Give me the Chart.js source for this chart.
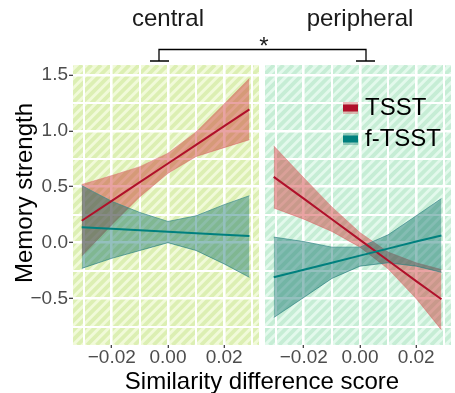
<!DOCTYPE html>
<html>
<head>
<meta charset="utf-8">
<script src="https://cdn.jsdelivr.net/npm/chart.js@4.4.0/dist/chart.umd.min.js"></script>
<style>
  body { margin: 0; background: #fff; font-family: "Liberation Sans", Arial, sans-serif; }
  #wrap { position: relative; width: 455px; height: 393px; overflow: hidden; }
  canvas { position: absolute; top: 0; }
  .lbl { position: absolute; font-size: 24px; line-height: 24px; color: #1a1a1a; text-align: center; white-space: nowrap; }
</style>
</head>
<body>
<div id="wrap">
  <canvas id="leftCanvas" width="262" height="393" style="left:0"></canvas>
  <canvas id="rightCanvas" width="193" height="393" style="left:262px"></canvas>
  <div class="lbl" style="left:68px;top:6px;width:200px">central</div>
  <div class="lbl" style="left:260px;top:6px;width:200px">peripheral</div>
  <div class="lbl" style="left:244px;top:34px;width:40px">*</div>
  <svg width="455" height="70" style="position:absolute;left:0;top:0">
    <path d="M159 61 V49.5 H366 V61 M150 61 H169 M356 61 H375" fill="none" stroke="#000" stroke-width="1.3"/>
  </svg>
  <div class="lbl" style="left:-126px;top:180.5px;width:300px;color:#000;transform:rotate(-90deg)">Memory strength</div>
  <div class="lbl" style="left:112px;top:368.5px;width:300px;color:#000">Similarity difference score</div>
</div>
<script>
// facets and groups
const panels = ['central', 'peripheral'];
const groups = ['TSST', 'f-TSST'];

const xPoints = [-0.0307, -0.02, -0.01, 0, 0.01, 0.02, 0.029];

// central panel
const centralTsstFit  = [0.196, 0.374, 0.541, 0.708, 0.875, 1.042, 1.192];
const centralTsstHigh = [0.52, 0.60, 0.68, 0.80, 0.99, 1.24, 1.47];
const centralTsstLow  = [-0.12, 0.16, 0.41, 0.62, 0.77, 0.85, 0.92];
const centralFtsstFit  = [0.139, 0.125, 0.112, 0.098, 0.085, 0.072, 0.060];
const centralFtsstHigh = [0.51, 0.37, 0.27, 0.19, 0.24, 0.34, 0.42];
const centralFtsstLow  = [-0.23, -0.14, -0.07, 0.00, -0.07, -0.19, -0.31];

// peripheral panel
const periphTsstFit  = [0.589, 0.394, 0.210, 0.025, -0.159, -0.344, -0.506];
const periphTsstHigh = [0.866, 0.58, 0.32, 0.09, -0.084, -0.18, -0.24];
const periphTsstLow  = [0.31, 0.21, 0.10, -0.04, -0.234, -0.50, -0.78];
const periphFtsstFit  = [-0.309, -0.242, -0.179, -0.116, -0.053, 0.010, 0.065];
const periphFtsstHigh = [0.05, 0.01, -0.04, -0.04, 0.07, 0.24, 0.395];
const periphFtsstLow  = [-0.67, -0.49, -0.32, -0.21, -0.18, -0.21, -0.265];

// axis ticks (every other one is a minor grid line)
const xTicks = [-0.03, -0.02, -0.01, 0, 0.01, 0.02, 0.03];
const xLabels = [-0.02, 0, 0.02];
const yTicks = [-0.75, -0.5, -0.25, 0, 0.25, 0.5, 0.75, 1, 1.25, 1.5];
const yLabels = [-0.5, 0, 0.5, 1, 1.5];

Chart.defaults.font.family = '"Liberation Sans", Arial, sans-serif';

const red = '#b0102a';
const teal = '#00807e';
const redBand = 'rgba(205, 45, 45, 0.44)';
const tealBand = 'rgba(0, 105, 100, 0.42)';

function isLabel(list, v) {
    return list.some(t => Math.abs(t - v) < 1e-9);
}

function fmt(v, digits) {
    return v.toFixed(digits).replace('-', '\u2212');
}

function pts(ys) {
    return xPoints.map((x, i) => ({x: x, y: ys[i]}));
}

function makeDatasets(tsstFit, tsstHigh, tsstLow, ftsstFit, ftsstHigh, ftsstLow) {
    return [
        {data: pts(tsstHigh), fill: '+1', backgroundColor: redBand, borderColor: 'rgba(220,120,120,0.5)', borderWidth: 1, pointRadius: 0, order: 3},
        {data: pts(tsstLow), fill: false, borderColor: 'rgba(220,120,120,0.5)', borderWidth: 1, pointRadius: 0, order: 3},
        {data: pts(ftsstHigh), fill: '+1', backgroundColor: tealBand, borderColor: 'rgba(60,140,140,0.7)', borderWidth: 1, pointRadius: 0, order: 2},
        {data: pts(ftsstLow), fill: false, borderColor: 'rgba(60,140,140,0.7)', borderWidth: 1, pointRadius: 0, order: 2},
        {label: groups[0], data: pts(tsstFit), fill: false, borderColor: red, borderWidth: 2, pointRadius: 0, order: 1},
        {label: groups[1], data: pts(ftsstFit), fill: false, borderColor: teal, borderWidth: 2, pointRadius: 0, order: 0}
    ];
}

// striped panel background
const hatchPlugin = {
    id: 'hatch',
    beforeDraw(chart, args, opts) {
        const a = chart.chartArea;
        const ctx = chart.ctx;
        ctx.save();
        ctx.beginPath();
        ctx.rect(a.left, a.top, a.right - a.left, a.bottom - a.top);
        ctx.clip();
        ctx.fillStyle = opts.base;
        ctx.fillRect(a.left, a.top, a.right - a.left, a.bottom - a.top);
        ctx.strokeStyle = opts.stripe;
        ctx.lineWidth = 3.8;
        const h = a.bottom - a.top;
        for (let k = a.left - h - 10; k < a.right + 10; k += 9.5) {
            ctx.beginPath();
            ctx.moveTo(k, a.bottom);
            ctx.lineTo(k + h, a.top);
            ctx.stroke();
        }
        ctx.restore();
    }
};

// legend drawn inside the right panel
const keyPlugin = {
    id: 'key',
    afterDraw(chart, args, opts) {
        if (!opts.show) return;
        const ctx = chart.ctx;
        const items = [[groups[0], red, 'rgba(215,120,120,0.5)', 108], [groups[1], teal, 'rgba(60,150,140,0.45)', 139]];
        ctx.save();
        items.forEach(([name, dark, light, cy]) => {
            ctx.fillStyle = light;
            ctx.fillRect(81, cy - 6, 15, 12);
            ctx.fillStyle = dark;
            ctx.fillRect(81, cy - 3.5, 15, 7);
            ctx.fillStyle = '#000';
            ctx.font = '24px "Liberation Sans", Arial, sans-serif';
            ctx.textBaseline = 'middle';
            ctx.fillText(name, 103, cy);
        });
        ctx.restore();
    }
};

function gridWidth(list) {
    return ctx => (ctx.tick && isLabel(list, ctx.tick.value)) ? 2.6 : 2;
}
function tickColor(list) {
    return ctx => (ctx.tick && isLabel(list, ctx.tick.value)) ? '#333333' : 'rgba(0,0,0,0)';
}

function makeChart(id, datasets, showY, colours, showKey) {
    return new Chart(document.getElementById(id), {
        type: 'line',
        data: {datasets: datasets},
        plugins: [hatchPlugin, keyPlugin],
        options: {
            responsive: false,
            animation: false,
            events: [],
            layout: {padding: {top: 65, right: showY ? 3 : 4, left: showY ? 0 : 3, bottom: 0}},
            plugins: {
                legend: {display: false},
                tooltip: {enabled: false},
                hatch: colours,
                key: {show: showKey}
            },
            scales: {
                x: {
                    type: 'linear',
                    min: -0.0338,
                    max: 0.0324,
                    afterBuildTicks: axis => { axis.ticks = xTicks.map(v => ({value: v})); },
                    afterFit: axis => { axis.height = 48; },
                    border: {display: false},
                    grid: {color: '#ffffff', lineWidth: gridWidth(xLabels), tickColor: tickColor(xLabels), tickLength: 3, tickWidth: 1.2},
                    ticks: {
                        autoSkip: false,
                        maxRotation: 0,
                        padding: -2,
                        color: '#4d4d4d',
                        font: {size: 19},
                        callback: v => isLabel(xLabels, v) ? fmt(v, 2) : ''
                    }
                },
                y: {
                    type: 'linear',
                    min: -0.915,
                    max: 1.589,
                    afterBuildTicks: axis => { axis.ticks = yTicks.map(v => ({value: v})); },
                    afterFit: axis => { axis.width = showY ? 73 : 0; },
                    border: {display: false},
                    grid: {color: '#ffffff', lineWidth: gridWidth(yLabels), tickColor: tickColor(yLabels), drawTicks: showY, tickLength: 4, tickWidth: 1.2},
                    ticks: {
                        display: showY,
                        padding: 1,
                        color: '#4d4d4d',
                        font: {size: 19},
                        callback: v => isLabel(yLabels, v) ? fmt(v, 1) : ''
                    }
                }
            }
        }
    });
}

makeChart('leftCanvas',
    makeDatasets(centralTsstFit, centralTsstHigh, centralTsstLow, centralFtsstFit, centralFtsstHigh, centralFtsstLow),
    true, {base: '#f1fad9', stripe: '#dcefb3'}, false);

makeChart('rightCanvas',
    makeDatasets(periphTsstFit, periphTsstHigh, periphTsstLow, periphFtsstFit, periphFtsstHigh, periphFtsstLow),
    false, {base: '#e3f9ec', stripe: '#c6edd5'}, true);
</script>
</body>
</html>
